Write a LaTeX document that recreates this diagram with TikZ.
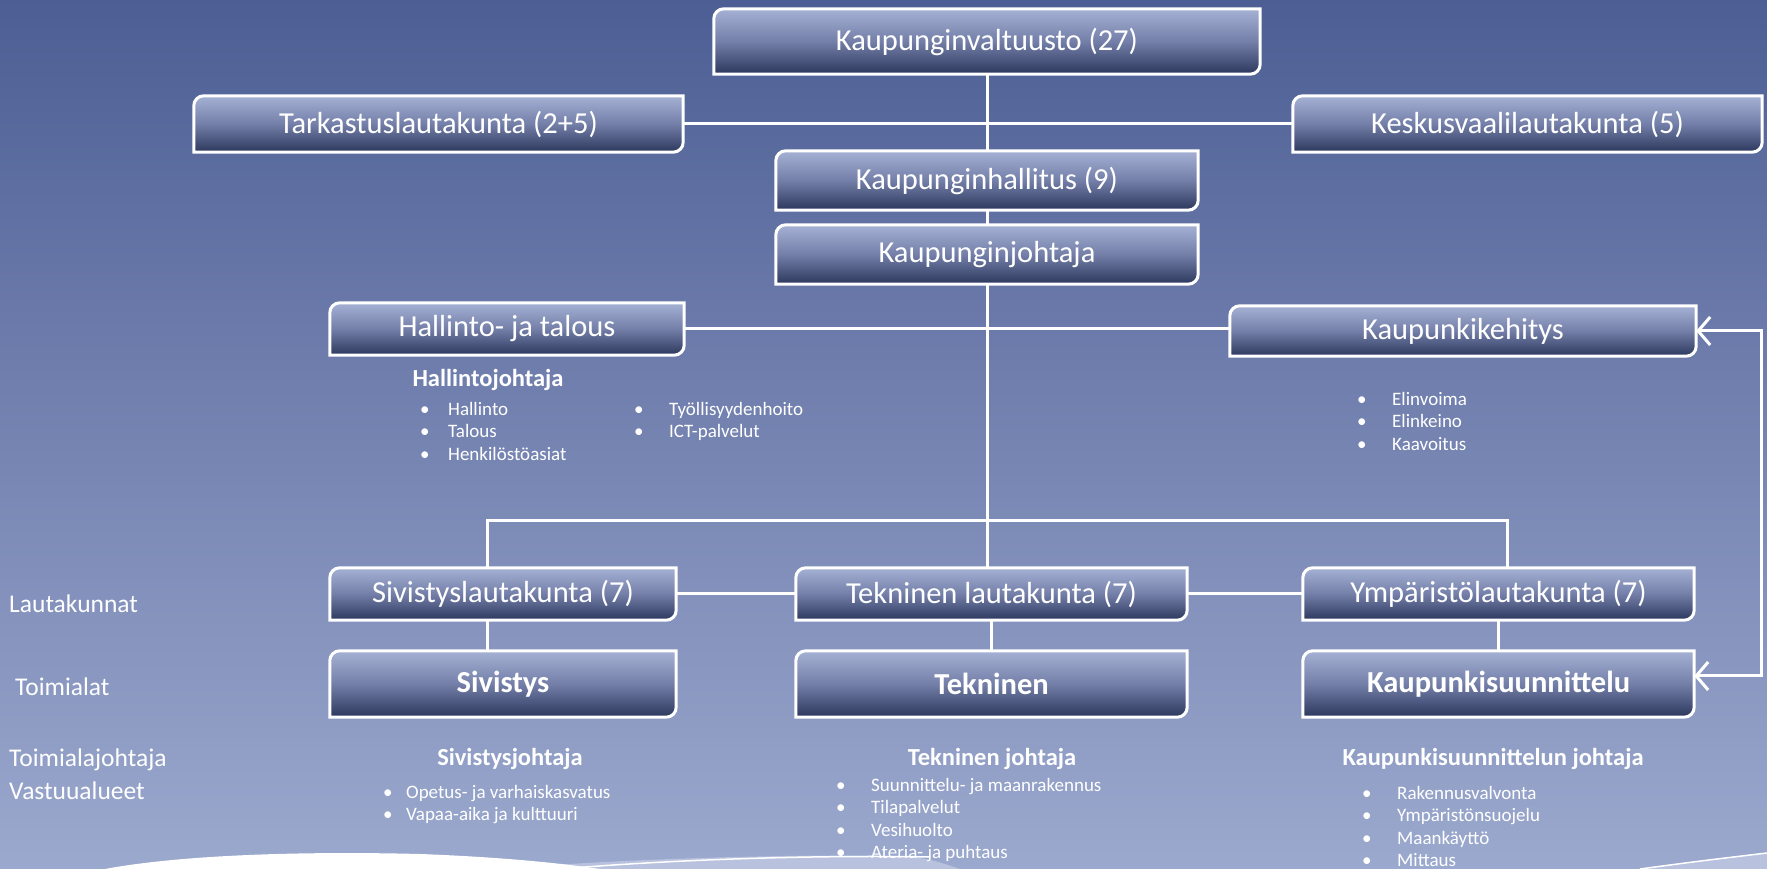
\documentclass[tikz,border=0pt]{standalone}
\usepackage{fontspec}
\setmainfont{Carlito}
\usetikzlibrary{arrows.meta}

\definecolor{bgtop}{RGB}{76,94,148}
\definecolor{bgmid}{RGB}{117,131,177}
\definecolor{bgbot}{RGB}{155,169,206}
\definecolor{boxtop}{RGB}{165,177,212}
\definecolor{boxmid}{RGB}{115,127,168}
\definecolor{boxbot}{RGB}{44,55,93}
\definecolor{wavelight}{RGB}{184,193,222}

\pgfdeclarelayer{tausta}
\pgfdeclarelayer{laatikot}
\pgfsetlayers{tausta,laatikot,main}

% shaded box behind a node, round corners top left and bottom right
\newcommand\laatikko[1]{%
  \shadedraw[top color=boxtop,bottom color=boxbot,middle color=boxmid,draw=white,line width=3pt]
    ([yshift=-10pt]#1.north west) arc[start angle=180,end angle=90,radius=10pt]
    -- (#1.north east) -- ([yshift=10pt]#1.south east)
    arc[start angle=0,end angle=-90,radius=10pt] -- (#1.south west) -- cycle;}
\newcommand\kohta[2][35pt]{\makebox[#1][l]{•}#2}

\begin{document}
\begin{tikzpicture}[x=1pt,y=1pt]
\tikzstyle{box} = [inner sep=0pt, text=white, font=\fontsize{30.5}{34}\selectfont]
\tikzstyle{boldbox} = [box, font=\fontsize{30.5}{34}\selectfont\bfseries]
\tikzstyle{conn} = [draw=white, line width=3pt]
\tikzstyle{arrowconn} = [conn, {Straight Barb[length=12pt,width=28pt]}-{Straight Barb[length=12pt,width=28pt]}]
\tikzstyle{rowlabel} = [anchor=west, inner sep=0pt, text=white, font=\fontsize{25.5}{30}\selectfont]
\tikzstyle{head} = [inner sep=0pt, text=white, font=\fontsize{24.5}{29}\selectfont\bfseries]
\tikzstyle{list} = [anchor=north west, inner sep=0pt, align=left, text=white, font=\fontsize{19}{22.5}\selectfont]

\useasboundingbox (0,0) rectangle (1767,869);

\begin{pgfonlayer}{tausta}
\shade[top color=bgtop, bottom color=bgbot, middle color=bgmid] (0,0) rectangle (1767,869);
\fill[wavelight] (500,0) .. controls (620,10) and (780,15) .. (900,13) .. controls (930,10) .. (960,0) -- cycle;
\draw[white, line width=1.5pt] (560,0) .. controls (680,10) and (820,14) .. (930,12);
\fill[white] (105,0) .. controls (180,14) and (300,18) .. (420,15) .. controls (500,12) and (560,6) .. (600,0) -- cycle;
\fill[wavelight] (1640,0) .. controls (1700,8) .. (1767,16) -- (1767,0) -- cycle;
\draw[white, line width=1.5pt] (1640,0) .. controls (1700,8) .. (1767,16);
\end{pgfonlayer}

\node [box, minimum width=546pt, minimum height=65pt] (valtuusto) at (987,827.5) {Kaupunginvaltuusto (27)};
\node [box, minimum width=489pt, minimum height=56pt] (tarkastus) at (438.5,745) {Tarkastuslautakunta (2+5)};
\node [box, minimum width=469pt, minimum height=56pt] (keskusvaali) at (1527.5,745) {Keskusvaalilautakunta (5)};
\node [box, minimum width=422pt, minimum height=59pt] (hallitus) at (987,688.5) {Kaupunginhallitus (9)};
\node [box, minimum width=422pt, minimum height=59pt] (johtaja) at (987,614.5) {Kaupunginjohtaja};
\node [box, minimum width=354pt, minimum height=52pt] (hallinto) at (507,540) {Hallinto- ja talous};
\node [box, minimum width=466pt, minimum height=50pt] (kehitys) at (1463,538) {Kaupunkikehitys};

\node [box, minimum width=346pt, minimum height=52pt] (sivltk) at (503,275) {Sivistyslautakunta (7)};
\node [box, minimum width=391pt, minimum height=52pt] (tekltk) at (991.5,275) {Tekninen lautakunta (7)};
\node [box, minimum width=391pt, minimum height=52pt] (ympltk) at (1498.5,275) {Ympäristölautakunta (7)};
\node [boldbox, minimum width=346pt, minimum height=66pt] (sivistys) at (503,185) {Sivistys};
\node [boldbox, minimum width=391pt, minimum height=66pt] (tekninen) at (991.5,185) {Tekninen};
\node [boldbox, minimum width=391pt, minimum height=66pt] (ksuunn) at (1498.5,185) {Kaupunkisuunnittelu};

\begin{pgfonlayer}{laatikot}
\foreach \b in {valtuusto,tarkastus,keskusvaali,hallitus,johtaja,hallinto,kehitys,sivltk,tekltk,ympltk,sivistys,tekninen,ksuunn}
  {\laatikko{\b}}
\end{pgfonlayer}

% texts under the boxes
\node [head] (hjohtaja) at (488,489) {Hallintojohtaja};
\node [list] (hlista1) at (420,467) {\kohta[28pt]{Hallinto}\\\kohta[28pt]{Talous}\\\kohta[28pt]{Henkilöstöasiat}};
\node [list] (hlista2) at (634,467) {\kohta{Työllisyydenhoito}\\\kohta{ICT-palvelut}};
\node [list] (klista) at (1357,477) {\kohta{Elinvoima}\\\kohta{Elinkeino}\\\kohta{Kaavoitus}};

\node [rowlabel] (r1) at (9,265) {Lautakunnat};
\node [rowlabel] (r2) at (15,182) {Toimialat};
\node [rowlabel] (r3) at (9,109) {Toimialajohtaja};
\node [rowlabel] (r4) at (9,78) {Vastuualueet};

\node [head] (sjohtaja) at (510,110) {Sivistysjohtaja};
\node [head] (tjohtaja) at (992,110) {Tekninen johtaja};
\node [head] (kjohtaja) at (1493,110) {Kaupunkisuunnittelun johtaja};
\node [list] (slista) at (383,84) {\kohta[23pt]{Opetus- ja varhaiskasvatus}\\\kohta[23pt]{Vapaa-aika ja kulttuuri}};
\node [list] (tlista) at (836,91) {\kohta{Suunnittelu- ja maanrakennus}\\\kohta{Tilapalvelut}\\\kohta{Vesihuolto}\\\kohta{Ateria- ja puhtaus}};
\node [list] (kslista) at (1362,83) {\kohta{Rakennusvalvonta}\\\kohta{Ympäristönsuojelu}\\\kohta{Maankäyttö}\\\kohta{Mittaus}};

% connectors
\coordinate (vayla) at (987,348);
\coordinate (oikea) at (1761,0);
\draw [conn] (valtuusto) -- (hallitus);
\draw [conn] (tarkastus) -- (keskusvaali);
\draw [conn] (hallitus) -- (johtaja);
\draw [conn] (johtaja.south) -- (johtaja.south |- tekltk.north);
\draw [conn] (hallinto.east) -- (hallinto.east -| kehitys.west);
\draw [conn] ([xshift=-16pt]sivltk.north) |- (vayla) -| ([xshift=9pt]ympltk.north);
\draw [conn] (sivltk) -- (tekltk);
\draw [conn] (tekltk) -- (ympltk);
\draw [conn] ([xshift=-16pt]sivltk.south) -- ([xshift=-16pt]sivistys.north);
\draw [conn] (tekltk) -- (tekninen);
\draw [conn] (ympltk) -- (ksuunn);
\draw [arrowconn] (kehitys.east) -- (kehitys.east -| oikea) -- ([yshift=8pt]ksuunn.east -| oikea) -- ([yshift=8pt]ksuunn.east);
\end{tikzpicture}
\end{document}
